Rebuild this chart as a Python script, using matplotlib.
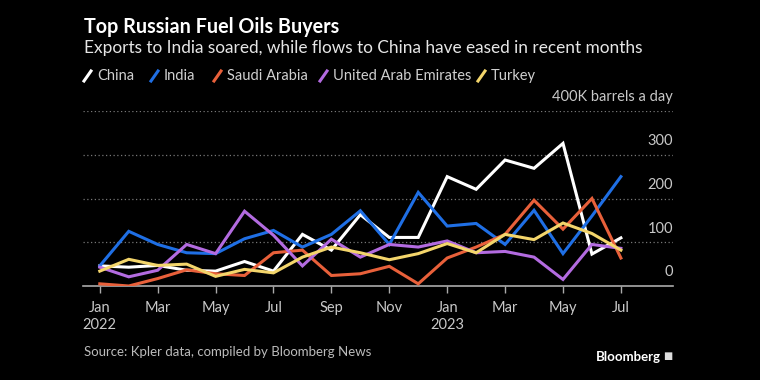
import matplotlib
matplotlib.use("Agg")
import matplotlib.pyplot as plt
from matplotlib.lines import Line2D
import pandas as pd

# Monthly exports, thousand barrels a day (Jan 2022 - Jul 2023)
months = pd.date_range("2022-01-01", "2023-07-01", freq="MS")
china = [46, 43, 47, 36, 34, 56, 34, 118, 82, 163, 111, 111, 250, 221, 288, 269, 326, 73, 110]
india = [46, 125, 95, 76, 74, 108, 127, 89, 118, 172, 95, 214, 137, 143, 95, 173, 74, 160, 250]
saudi = [5, 0, 17, 37, 28, 24, 76, 82, 24, 28, 45, 5, 64, 89, 118, 196, 130, 200, 64]
uae = [43, 21, 36, 95, 74, 171, 116, 46, 107, 66, 95, 89, 103, 76, 79, 66, 15, 95, 86]
turkey = [34, 61, 47, 50, 22, 38, 30, 66, 89, 76, 60, 74, 97, 76, 118, 106, 144, 120, 82]

names = ["China", "India", "Saudi Arabia", "United Arab Emirates", "Turkey"]
colors = ["#ffffff", "#1f6fe5", "#e8603a", "#b36be0", "#f3d56b"]
series = [china, india, saudi, uae, turkey]

tick_labels = ["Jan\n2022", "Mar", "May", "Jul", "Sep", "Nov", "Jan\n2023", "Mar", "May", "Jul"]
y_ticks = [0, 100, 200, 300]

plt.rcParams["font.family"] = ["Lato", "DejaVu Sans"]

fig = plt.figure(figsize=(7.6, 3.8), dpi=100, facecolor="black")
ax = fig.add_axes([83 / 760, 1 - 286 / 380, 590 / 760, 175 / 380])
ax.set_facecolor("black")

x = list(range(len(months)))
for vals, c in zip(series, colors):
    ax.plot(x, vals, color=c, lw=2.2, solid_joinstyle="miter", zorder=3)

ax.set_xlim(-0.58, 19.8)
ax.set_ylim(0, 400)

# gridlines (dotted) and y labels above them on the right
for v in [100, 200, 300, 400]:
    ax.axhline(v, color="#777777", lw=0.9, ls=(0, (1, 2)), zorder=1)
for v in y_ticks:
    ax.text(1.0, v + 31, str(v), transform=ax.get_yaxis_transform(),
            ha="right", va="center", color="#c8c8c8", fontsize=10.5)
ax.text(1.0, 400 + 32, "400K barrels a day", transform=ax.get_yaxis_transform(),
        ha="right", va="center", color="#c8c8c8", fontsize=10.5, clip_on=False)

for s in ["top", "right", "left"]:
    ax.spines[s].set_visible(False)
ax.spines["bottom"].set_color("#aaaaaa")
ax.spines["bottom"].set_linewidth(1.2)
ax.set_yticks([])
ax.set_xticks(x[::2])
ax.set_xticklabels(tick_labels)
ax.tick_params(axis="x", colors="#aaaaaa", labelcolor="#c8c8c8", labelsize=10.5,
               length=5, width=1, pad=6)
for lbl in ax.get_xticklabels():
    lbl.set_linespacing(1.25)

# titles
fig.text(84 / 760, 1 - 27 / 380, "Top Russian Fuel Oils Buyers", color="white",
         fontsize=14.2, fontweight="bold", va="center", ha="left")
fig.text(84 / 760, 1 - 48 / 380,
         "Exports to India soared, while flows to China have eased in recent months",
         color="#e6e6e6", fontsize=12.4, va="center", ha="left")

# legend with slanted markers
leg_x = [84, 151, 214, 320, 478]
for lx, name, c in zip(leg_x, names, colors):
    fig.add_artist(Line2D([lx / 760, (lx + 7) / 760], [1 - 81 / 380, 1 - 71 / 380],
                          color=c, lw=2.2, transform=fig.transFigure))
    fig.text((lx + 13) / 760, 1 - 76 / 380, name, color="#d0d0d0", fontsize=10.5,
             va="center", ha="left")

fig.text(84 / 760, 1 - 352 / 380, "Source: Kpler data, compiled by Bloomberg News",
         color="#bbbbbb", fontsize=9.5, va="center", ha="left")
fig.text(661 / 760, 1 - 357 / 380, "Bloomberg", color="white", fontsize=9.5,
         fontweight="bold", va="center", ha="right")
fig.text(672 / 760, 1 - 357 / 380, "\u25a0", color="#dddddd", fontsize=7,
         va="center", ha="right")

fig.savefig("out.png", dpi=100, facecolor="black")
